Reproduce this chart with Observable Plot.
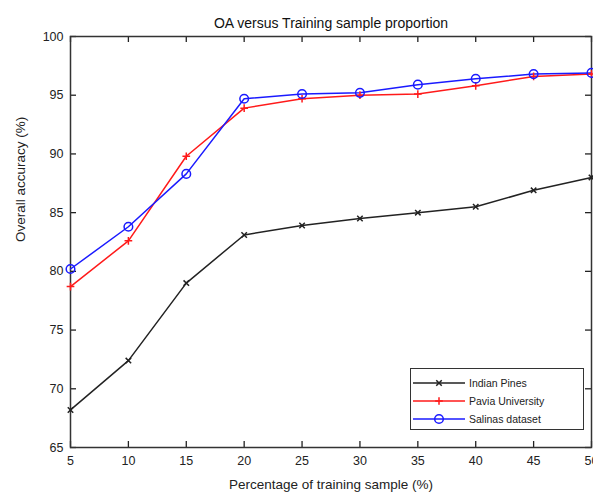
<!DOCTYPE html>
<html>
<head>
<meta charset="utf-8">
<script src="https://cdn.jsdelivr.net/npm/d3@7"></script>
<script src="https://cdn.jsdelivr.net/npm/@observablehq/plot@0.6"></script>
<style>
  html, body { margin: 0; padding: 0; background: #fff; }
  #wrap { position: relative; width: 593px; height: 497px; overflow: hidden; font-family: "Liberation Sans", Arial, sans-serif; }
  #legend { position: absolute; left: 410px; top: 368px; width: 174px; height: 62px; border: 1.5px solid #333; background: #fff; box-sizing: border-box; padding-top: 5px; }
  .row { display: flex; align-items: center; height: 18px; font-size: 10.5px; color: #222; }
  .row svg { margin-left: 2px; margin-right: 4px; }
</style>
</head>
<body>
<div id="wrap"></div>
<script>
const percentages = [5, 10, 15, 20, 25, 30, 35, 40, 45, 50];
const indianPines = [68.2, 72.4, 79.0, 83.1, 83.9, 84.5, 85.0, 85.5, 86.9, 88.0];
const paviaUniversity = [78.7, 82.6, 89.8, 93.9, 94.7, 95.0, 95.1, 95.8, 96.6, 96.8];
const salinasDataset = [80.2, 83.8, 88.3, 94.7, 95.1, 95.2, 95.9, 96.4, 96.8, 96.9];
const seriesNames = ["Indian Pines", "Pavia University", "Salinas dataset"];
const seriesColors = ["#222222", "#ff1a1a", "#1a1aff"];
const seriesSymbols = ["times", "plus", "circle"];
const xTicks = [5, 10, 15, 20, 25, 30, 35, 40, 45, 50];
const yTicks = [65, 70, 75, 80, 85, 90, 95, 100];
const xDomain = [5, 50];
const yDomain = [65, 100];
const titleText = "OA versus Training sample proportion";
const xLabel = "Percentage of training sample (%)";
const yLabel = "Overall accuracy (%)";

const allSeries = [indianPines, paviaUniversity, salinasDataset];
const rows = allSeries.flatMap((vals, i) => vals.map((v, j) => ({series: seriesNames[i], x: percentages[j], y: v})));
const circleRows = rows.filter(d => d.series === "Salinas dataset");
const crossRows = rows.filter(d => d.series !== "Salinas dataset");

const W = 593, H = 497, mT = 36, mB = 50, mL = 70, mR = 2, TICK = 6;
const frameW = W - mL - mR, frameH = H - mT - mB;
// tick length converted to data units so ticks point inward
const tx = TICK * (xDomain[1] - xDomain[0]) / frameW;
const ty = TICK * (yDomain[1] - yDomain[0]) / frameH;

const chart = Plot.plot({
  width: W,
  height: H,
  marginTop: mT,
  marginBottom: mB,
  marginLeft: mL,
  marginRight: mR,
  style: {fontFamily: "Liberation Sans, Arial, sans-serif", background: "#fff", color: "#222"},
  x: {domain: xDomain},
  y: {domain: yDomain},
  color: {domain: seriesNames, range: seriesColors},
  symbol: {domain: seriesNames, range: seriesSymbols},
  marks: [
    Plot.axisX(xTicks, {anchor: "bottom", tickSize: 0, tickPadding: 9, fontSize: 12.5, label: null, fill: "#222"}),
    Plot.axisY(yTicks, {anchor: "left", tickSize: 0, tickPadding: 7, fontSize: 12.5, label: null, fill: "#222"}),
    Plot.ruleX(xTicks, {x: d => d, y1: yDomain[0], y2: yDomain[0] + ty, stroke: "#222", strokeWidth: 1.3}),
    Plot.ruleX(xTicks, {x: d => d, y1: yDomain[1] - ty, y2: yDomain[1], stroke: "#222", strokeWidth: 1.3}),
    Plot.ruleY(yTicks, {y: d => d, x1: xDomain[0], x2: xDomain[0] + tx, stroke: "#222", strokeWidth: 1.3}),
    Plot.ruleY(yTicks, {y: d => d, x1: xDomain[1] - tx, x2: xDomain[1], stroke: "#222", strokeWidth: 1.3}),
    Plot.frame({stroke: "#333", strokeWidth: 1.5}),
    Plot.line(rows, {x: "x", y: "y", z: "series", stroke: "series", strokeWidth: 1.5}),
    Plot.dot(crossRows, {x: "x", y: "y", stroke: "series", symbol: "series", r: 2.6, strokeWidth: 1.5, fill: "none"}),
    Plot.dot(circleRows, {x: "x", y: "y", stroke: "series", symbol: "series", r: 4.3, strokeWidth: 1.5, fill: "none"}),
    Plot.text([titleText], {frameAnchor: "top", dy: -18, fontSize: 14, fill: "#111"}),
    Plot.text([xLabel], {frameAnchor: "bottom", dy: 41, fontSize: 13.5, fill: "#222"}),
    Plot.text([yLabel], {frameAnchor: "left", dx: -50, rotate: -90, fontSize: 13.5, fill: "#222"})
  ]
});

const wrap = document.getElementById("wrap");
wrap.appendChild(chart);

// Legend
const legend = document.createElement("div");
legend.id = "legend";
seriesNames.forEach((name, i) => {
  const row = document.createElement("div");
  row.className = "row";
  const sw = d3.create("svg").attr("width", 52).attr("height", 12);
  sw.append("line").attr("x1", 0).attr("x2", 52).attr("y1", 6).attr("y2", 6)
    .attr("stroke", seriesColors[i]).attr("stroke-width", 1.5);
  const sym = {times: d3.symbolTimes, plus: d3.symbolPlus, circle: d3.symbolCircle}[seriesSymbols[i]];
  const rr = seriesSymbols[i] === "circle" ? 4.3 : 2.6;
  sw.append("path").attr("d", d3.symbol(sym, Math.PI * rr * rr)()).attr("transform", "translate(26,6)")
    .attr("fill", "none").attr("stroke", seriesColors[i]).attr("stroke-width", 1.5);
  row.appendChild(sw.node());
  const t = document.createElement("span");
  t.textContent = name;
  row.appendChild(t);
  legend.appendChild(row);
});
wrap.appendChild(legend);
</script>
</body>
</html>
